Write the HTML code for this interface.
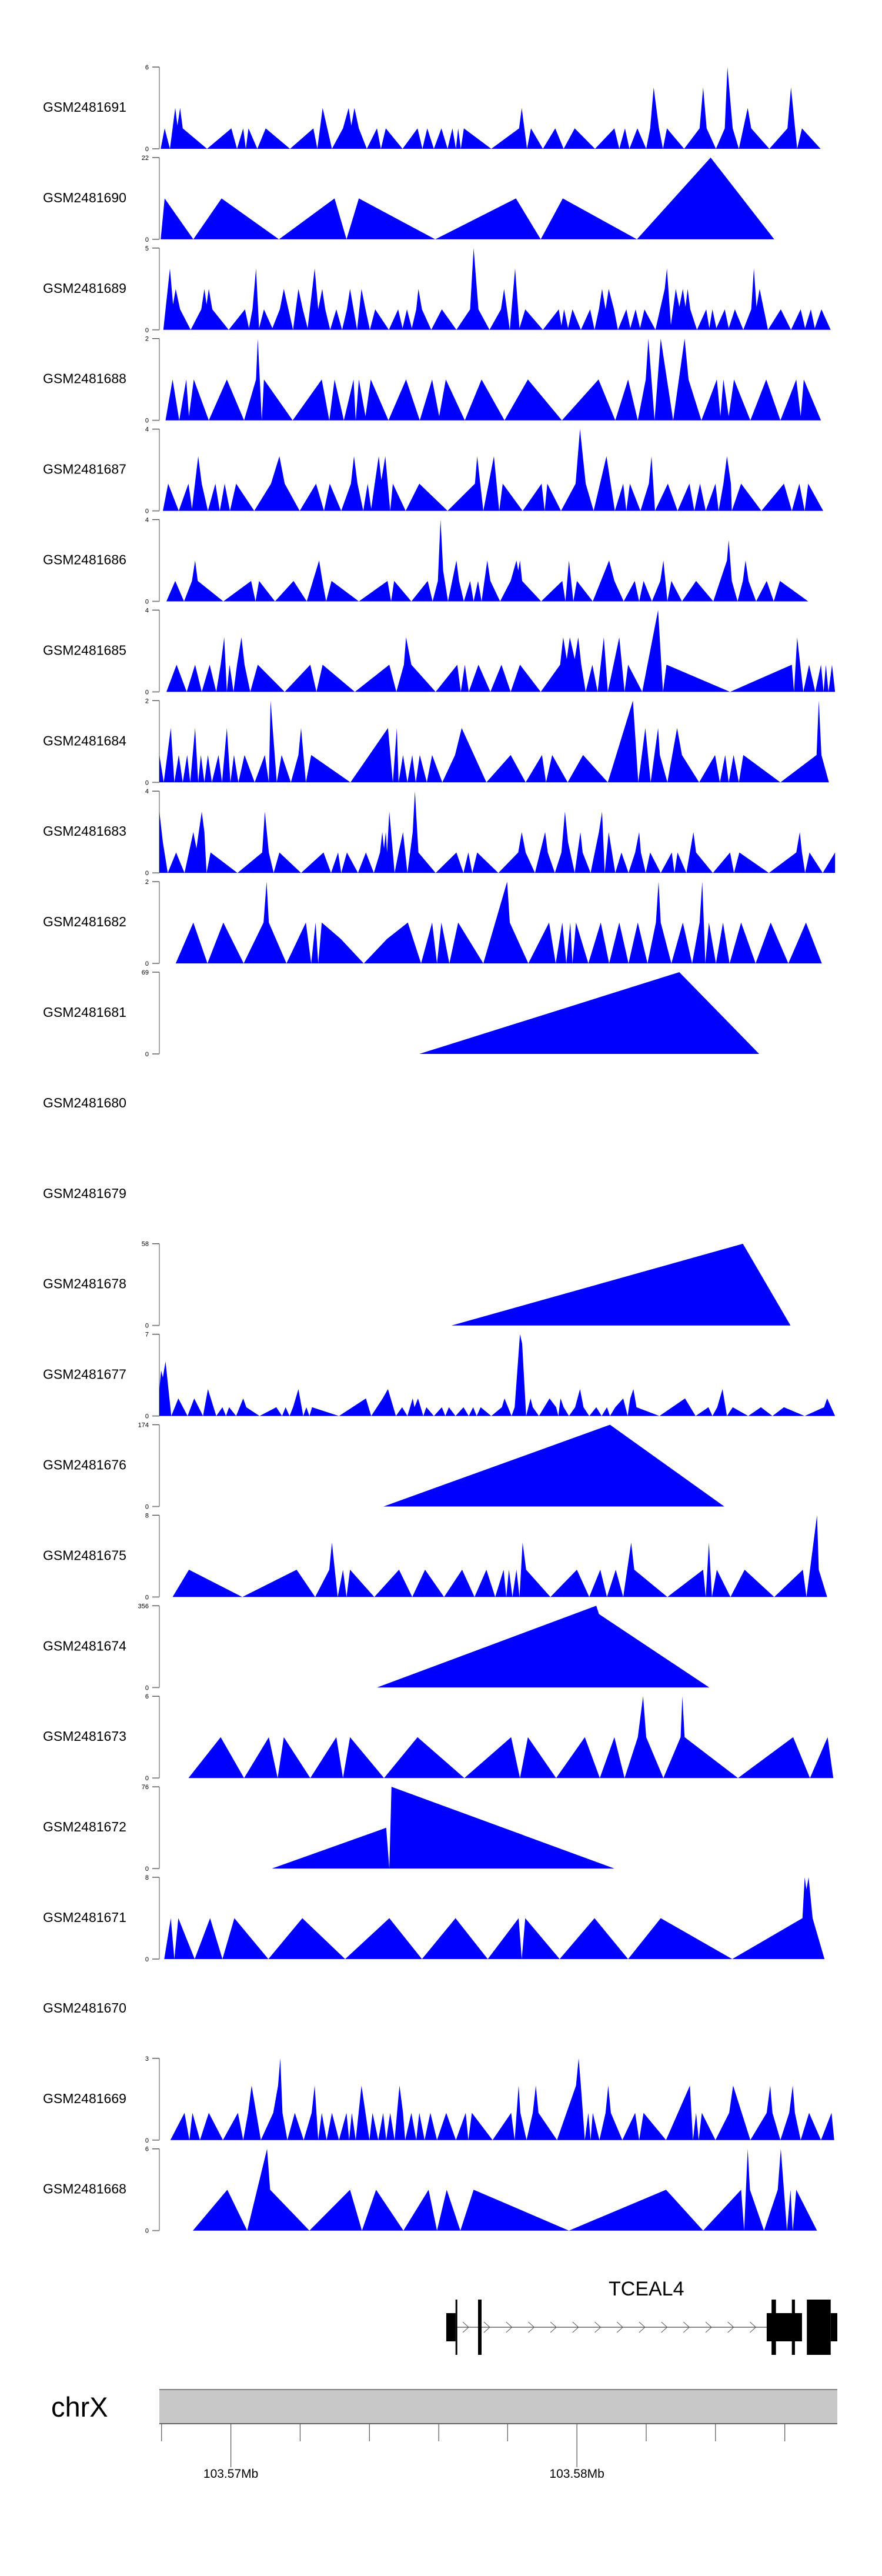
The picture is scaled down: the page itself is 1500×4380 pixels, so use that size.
<!DOCTYPE html>
<html><head><meta charset="utf-8">
<style>
html,body{margin:0;padding:0;background:#fff;}
svg{display:block;font-family:"Liberation Sans",Arial,sans-serif;}
</style></head>
<body>
<svg id="chart" width="1500" height="4380" viewBox="0 0 1500 4380" xmlns="http://www.w3.org/2000/svg"></svg>
<script>
// ---- data ----
const sampleNames = ["GSM2481691","GSM2481690","GSM2481689","GSM2481688","GSM2481687","GSM2481686","GSM2481685","GSM2481684","GSM2481683","GSM2481682","GSM2481681","GSM2481680","GSM2481679","GSM2481678","GSM2481677","GSM2481676","GSM2481675","GSM2481674","GSM2481673","GSM2481672","GSM2481671","GSM2481670","GSM2481669","GSM2481668"];
const yMaxes = [6,22,5,2,4,4,4,2,4,2,69,null,null,58,7,174,8,356,6,76,8,null,3,6];

const pts1691 = [[17,0],[26,1.5],[38,0],[50,3],[55,1.7],[61,3],[67,1.5],[122,0],[177,1.5],[190,0],[204,1.5],[210,0],[216,1.5],[236,0],[255,1.5],[310,0],[363,1.5],[372,0],[384,3],[405,0],[430,1.5],[443,3],[449,1.7],[456,3],[466,1.5],[484,0],[507,1.5],[516,0],[527,1.5],[565,0],[599,1.5],[610,0],[621,1.5],[636,0],[653,1.5],[667,0],[678,1.5],[686,0],[691,1.5],[697,0],[704,1.5],[766,0],[829,1.5],[835,3],[847,0],[856,1.5],[883,0],[911,1.5],[930,0],[955,1.5],[1001,0],[1045,1.5],[1056,0],[1069,1.5],[1079,0],[1097,1.5],[1117,0],[1126,1.5],[1134,4.5],[1146,1.5],[1155,0],[1164,1.5],[1203,0],[1238,1.5],[1246,4.5],[1254,1.5],[1275,0],[1295,1.5],[1301,6],[1313,1.5],[1327,0],[1347,3],[1355,1.5],[1396,0],[1437,1.5],[1445,4.5],[1459,0],[1470,1.5],[1512,0]];
const pts1690 = [[17,0],[26,11],[91,0],[155,11],[285,0],[411,11],[438,0],[466,11],[639,0],[822,11],[878,0],[928,11],[1096,0],[1263,22],[1407,0]];
const pts1689 = [[23,0],[38,3.75],[45,1.55],[51,2.5],[61,1.25],[85,0],[109,1.25],[116,2.5],[121,1.55],[126,2.5],[134,1.25],[171,0],[208,1.25],[217,0.1],[225,1.25],[233,3.75],[240,0.1],[251,1.25],[270,0.1],[287,1.25],[296,2.5],[317,0],[329,2.5],[339,1.25],[350,0.1],[366,3.75],[374,1.25],[383,2.5],[390,1.25],[401,0],[415,1.25],[428,0],[439,1.25],[446,2.5],[462,0],[472,2.5],[481,1.25],[491,0],[503,1.25],[534,0],[555,1.25],[565,0.1],[575,1.25],[586,0.1],[596,1.25],[601,2.5],[609,1.25],[630,0],[654,1.25],[687,0],[718,1.25],[726,5],[737,1.25],[762,0],[788,1.25],[795,2.5],[808,0],[820,3.75],[830,0.1],[843,1.25],[883,0],[919,1.25],[925,0.25],[931,1.25],[940,0.1],[950,1.25],[969,0],[990,1.25],[1000,0],[1010,1.25],[1017,2.5],[1025,1.25],[1032,2.5],[1044,1.25],[1053,0],[1072,1.25],[1081,0.1],[1093,1.25],[1103,0.1],[1113,1.25],[1138,0],[1159,2.5],[1164,3.75],[1173,0.3],[1184,2.5],[1192,1.4],[1200,2.5],[1206,1.4],[1211,2.5],[1217,1.25],[1232,0],[1253,1.25],[1260,0.1],[1267,1.25],[1276,0.1],[1295,1.25],[1304,0.1],[1318,1.25],[1337,0],[1355,1.25],[1361,3.75],[1367,1.4],[1374,2.5],[1393,0],[1422,1.25],[1445,0],[1467,1.25],[1477,0.1],[1490,1.25],[1499,0.1],[1514,1.25],[1535,0]];
const pts1688 = [[28,0],[44,1],[59,0],[75,1],[81,0.1],[92,1],[126,0],[167,1],[206,0],[233,1],[237,2],[246,0],[251,1],[316,0],[382,1],[399,0],[411,1],[432,0],[454,1],[459,0],[466,1],[481,0.1],[493,1],[533,0],[573,1],[604,0],[632,1],[648,0.1],[663,1],[706,0],[744,1],[796,0],[849,1],[926,0],[1009,1],[1047,0],[1076,1],[1098,0],[1116,1],[1122,2],[1136,0],[1150,2],[1178,0],[1204,2],[1213,1],[1242,0],[1277,1],[1285,0.1],[1292,1],[1304,0.1],[1316,1],[1353,0],[1389,1],[1421,0],[1457,1],[1467,0.1],[1474,1],[1513,0]];
const pts1687 = [[22,0],[34,1.33],[58,0],[80,1.33],[88,0.1],[102,2.67],[110,1.33],[124,0],[141,1.33],[151,0],[162,1.33],[174,0],[188,1.33],[229,0],[267,1.33],[286,2.67],[298,1.33],[332,0],[369,1.33],[387,0],[400,1.33],[426,0],[448,1.33],[455,2.67],[463,1.33],[476,0],[486,1.33],[494,0.1],[502,1.33],[511,2.67],[517,1.5],[526,2.67],[537,0],[543,1.33],[572,0],[603,1.33],[667,0],[729,1.33],[734,2.67],[748,0],[772,2.67],[784,0],[792,1.33],[837,0],[880,1.33],[887,0],[893,1.33],[924,0],[957,1.33],[967,4],[980,1.33],[998,0],[1027,2.67],[1046,0],[1065,1.33],[1072,0],[1080,1.33],[1104,0],[1123,1.33],[1129,2.67],[1137,0],[1166,1.33],[1188,0],[1215,1.33],[1226,0],[1239,1.33],[1252,0],[1274,1.33],[1281,0],[1292,1.33],[1300,2.67],[1309,1.33],[1311,0],[1332,1.33],[1378,0],[1429,1.33],[1447,0],[1464,1.33],[1476,0],[1484,1.33],[1518,0]];
const pts1686 = [[30,0],[50,1],[70,0],[88,1],[95,2],[101,1],[159,0],[222,1],[232,0],[240,1],[276,0],[318,1],[348,0],[376,2],[385,0.8],[392,0],[404,1],[466,0],[531,1],[539,0],[546,1],[585,0],[622,1],[633,0],[645,1],[651,4],[657,1.5],[668,0],[687,2],[693,1],[704,0],[718,1],[726,0],[736,1],[744,0],[757,2],[764,1],[786,0],[810,1],[823,2],[827,1.5],[831,2],[836,1],[879,0],[927,1],[934,0],[942,2],[952,0],[960,1],[996,0],[1033,2],[1045,1],[1066,0],[1091,1],[1101,0],[1111,1],[1130,0],[1149,1],[1156,2],[1165,0],[1174,1],[1198,0],[1230,1],[1269,0],[1300,2],[1304,3],[1311,1],[1324,0],[1336,1],[1342,2],[1349,1],[1366,0],[1390,1],[1406,0],[1420,1],[1484,0]];
const pts1685 = [[30,0],[53,1.33],[76,0],[95,1.33],[110,0],[128,1.33],[143,0],[153,1.33],[161,2.67],[167,0],[173,1.33],[182,0],[190,1.33],[200,2.67],[207,1.33],[220,0],[237,1.33],[298,0],[356,1.33],[370,0],[384,1.33],[457,0],[535,1.33],[551,0],[568,1.33],[573,2.67],[585,1.33],[640,0],[689,1.33],[697,0],[706,1.33],[715,0],[737,1.33],[764,0],[789,1.33],[810,0],[831,1.33],[878,0],[922,1.33],[929,2.67],[937,1.6],[944,2.67],[955,1.6],[963,2.67],[970,1.33],[980,0],[995,1.33],[1007,0],[1021,2.67],[1030,0],[1056,2.67],[1068,0],[1076,1.33],[1108,0],[1144,4],[1155,0],[1163,1.33],[1307,0],[1447,1.33],[1452,0],[1459,2.67],[1473,0],[1486,1.33],[1500,0],[1513,1.33],[1519,0],[1524,1.33],[1530,0],[1538,1.33],[1545,0]];
const pts1684 = [[14,0],[14,0.67],[24,0],[40,1.33],[48,0],[58,0.67],[67,0],[77,0.67],[84,0],[95,1.33],[102,0],[108,0.67],[116,0],[124,0.67],[133,0],[148,0.67],[156,0],[167,1.33],[175,0],[183,0.67],[193,0],[207,0.67],[230,0],[253,0.67],[262,0],[266,2],[280,0],[291,0.67],[312,0],[329,0.67],[335,1.33],[346,0],[358,0.67],[447,0],[532,1.33],[543,0],[552,1.33],[556,0],[566,0.67],[576,0],[587,0.67],[595,0],[604,0.67],[620,0],[632,0.67],[655,0],[684,0.67],[699,1.33],[755,0],[810,0.67],[844,0],[881,0.67],[890,0],[904,0.67],[939,0],[974,0.67],[1030,0],[1087,2],[1099,0],[1115,1.33],[1127,0],[1144,1.33],[1148,0.67],[1165,0],[1187,1.33],[1198,0.67],[1237,0],[1273,0.67],[1284,0],[1296,0.67],[1304,0],[1315,0.67],[1327,0],[1337,0.67],[1421,0],[1503,0.67],[1508,2],[1514,0.67],[1531,0]];
const pts1683 = [[14,0],[14,3],[22,1.5],[33,0],[52,1],[71,0],[91,2],[98,1.2],[110,3],[116,2],[121,0],[130,1],[191,0],[247,1],[253,3],[262,1],[273,0],[286,1],[335,0],[386,1],[403,0],[419,1],[426,0],[439,1],[464,0],[482,1],[500,0],[514,1],[519,2],[523,1.2],[527,2],[530,1],[535,3],[547,0],[556,1],[566,2],[576,0],[588,2],[593,4],[601,1],[640,0],[687,1],[703,0],[714,1],[723,0],[734,1],[782,0],[827,1],[835,2],[844,1],[865,0],[888,2],[894,1],[910,0],[925,1],[933,3],[940,1.5],[955,0],[968,2],[973,1],[991,0],[1010,2],[1017,3],[1023,0],[1032,2],[1047,0],[1061,1],[1077,0],[1092,1],[1101,2],[1105,1],[1116,0],[1126,1],[1150,0],[1175,1],[1181,0],[1188,1],[1208,0],[1224,2],[1230,1],[1268,0],[1307,1],[1316,0],[1328,1],[1395,0],[1457,1],[1465,2],[1470,1],[1477,0],[1487,1],[1517,0],[1545,1],[1545,0]];
const pts1682 = [[51,0],[91,1],[123,0],[159,1],[205,0],[250,1],[257,2],[262,1],[302,0],[346,1],[358,0],[368,1],[374,0],[382,1],[425,0.6],[477,0],[530,0.6],[577,1],[607,0],[632,1],[643,0],[653,1],[671,0],[691,1],[748,0],[802,2],[808,1],[850,0],[897,1],[912,0],[927,1],[936,0],[945,1],[950,0],[958,1],[986,0],[1014,1],[1033,0],[1056,1],[1077,0],[1098,1],[1120,0],[1139,1],[1145,2],[1150,1],[1174,0],[1200,1],[1221,0],[1238,1],[1244,2],[1251,0],[1259,1],[1275,0],[1291,1],[1306,0],[1332,1],[1365,0],[1399,1],[1439,0],[1479,1],[1515,0]];
const pts1681 = [[603,0],[1192,69],[1373,0]];
const pts1678 = [[676,0],[1336,58],[1444,0]];
const pts1677 = [[14,0],[14,2.3],[18,3.9],[22,3.3],[28,4.67],[41,0],[57,1.5],[78,0],[93,1.5],[113,0],[124,2.3],[143,0],[157,0.75],[165,0],[172,0.75],[188,0],[204,1.5],[211,0.75],[241,0],[279,0.75],[292,0],[300,0.75],[309,0],[317,0.75],[329,2.3],[340,0],[347,0.75],[354,0],[360,0.75],[421,0],[482,1.5],[494,0],[520,1.5],[532,2.3],[550,0],[564,0.75],[576,0],[588,1.5],[592,0.75],[600,1.5],[612,0],[619,0.75],[636,0],[654,0.75],[662,0],[670,0.75],[685,0],[703,0.75],[715,0],[725,0.75],[733,0],[742,0.75],[766,0],[790,0.75],[796,1.5],[812,0],[819,0.75],[831,7],[836,6.2],[845,0],[855,1.5],[860,0.75],[874,0],[898,1.5],[913,0.75],[918,0],[923,1.5],[930,0.75],[942,0],[956,0.75],[967,2.3],[975,0.75],[988,0],[1004,0.75],[1016,0],[1028,0.75],[1035,0],[1047,0.75],[1065,1.5],[1075,0],[1081,1.5],[1088,2.3],[1095,0.75],[1147,0],[1205,1.5],[1229,0],[1258,0.75],[1267,0],[1278,0.75],[1290,2.3],[1300,0],[1313,0.75],[1348,0],[1377,0.75],[1403,0],[1429,0.75],[1476,0],[1520,0.75],[1527,1.5],[1545,0]];
const pts1676 = [[522,0],[1035,174],[1294,0]];
const pts1675 = [[44,0],[81,2.67],[202,0],[325,2.67],[367,0],[399,2.67],[405,5.33],[418,0],[430,2.67],[438,0],[446,2.67],[501,0],[557,2.67],[587,0],[616,2.67],[659,0],[700,2.67],[728,0],[755,2.67],[775,0],[794,2.67],[800,0],[806,2.67],[814,0],[823,2.67],[830,0],[837,5.33],[845,2.67],[900,0],[960,2.67],[988,0],[1013,2.67],[1028,0],[1048,2.67],[1065,0],[1083,5.33],[1090,2.67],[1165,0],[1246,2.67],[1252,0],[1259,5.33],[1266,0],[1277,2.67],[1308,0],[1340,2.67],[1407,0],[1472,2.67],[1480,0],[1504,8],[1508,2.67],[1527,0]];
const pts1674 = [[507,0],[1004,356],[1010,320],[1260,0]];
const pts1673 = [[80,0],[153,3],[206,0],[262,3],[282,0],[296,3],[356,0],[415,3],[430,0],[446,3],[523,0],[599,3],[705,0],[811,3],[831,0],[849,3],[913,0],[978,3],[1012,0],[1045,3],[1068,0],[1098,3],[1110,6],[1117,3],[1156,0],[1195,3],[1199,6],[1204,3],[1325,0],[1450,3],[1488,0],[1528,3],[1541,0]];
const pts1672 = [[269,0],[528,37.9],[535,0],[540,76],[1045,0]];
const pts1671 = [[25,0],[40,4],[48,0],[57,4],[94,0],[129,4],[157,0],[184,4],[261,0],[338,4],[435,0],[535,4],[609,0],[685,4],[758,0],[828,4],[835,0],[843,4],[921,0],[1000,4],[1076,0],[1150,4],[1312,0],[1471,4],[1476,8],[1480,6.8],[1485,8],[1494,4],[1521,0]];
const pts1669 = [[39,0],[71,1],[82,0],[89,1],[106,0],[126,1],[158,0],[192,1],[204,0],[215,1],[223,2],[244,0],[272,1],[283,2],[288,3],[293,1],[304,0],[321,1],[341,0],[359,1],[366,2],[374,0],[382,1],[393,0],[405,1],[421,0],[438,1],[444,0],[450,1],[459,0],[472,2],[490,0],[497,1],[510,0],[521,1],[528,0],[537,1],[547,0],[558,2],[566,1],[571,0],[585,1],[596,0],[603,1],[615,0],[628,1],[643,0],[664,1],[686,0],[708,1],[714,0],[722,1],[769,0],[811,1],[819,0],[828,2],[832,1],[846,0],[860,1],[867,2],[873,1],[915,0],[958,2],[964,3],[969,2],[978,0],[986,1],[991,0],[996,1],[1011,0],[1025,1],[1031,2],[1037,1],[1063,0],[1092,1],[1101,0],[1111,1],[1162,0],[1216,2],[1223,0],[1230,1],[1236,0],[1243,1],[1274,0],[1305,1],[1314,2],[1353,0],[1390,1],[1398,2],[1403,1],[1421,0],[1441,1],[1449,2],[1454,1],[1467,0],[1486,1],[1513,0],[1537,1],[1543,0]];
const pts1668 = [[90,0],[168,3],[213,0],[258,6],[265,3],[354,0],[446,3],[473,0],[505,3],[567,0],[624,3],[643,0],[665,3],[696,0],[726,3],[942,0],[1162,3],[1246,0],[1332,3],[1339,0],[1347,6],[1352,3],[1384,0],[1415,3],[1422,6],[1436,0],[1444,3],[1449,0],[1457,3],[1504,0]];

const trackSeries = [pts1691,pts1690,pts1689,pts1688,pts1687,pts1686,pts1685,pts1684,pts1683,pts1682,pts1681,null,null,pts1678,pts1677,pts1676,pts1675,pts1674,pts1673,pts1672,pts1671,null,pts1669,pts1668];

// genomic axis (position units) and tick labels
const axisTickPos = [19,176,333,490,647,803,960,1117,1274,1431];
const axisTickLabels = [null,"103.57Mb",null,null,null,null,"103.58Mb",null,null,null];
const geneName = "TCEAL4";
const exonsMid = [[664,685],[1390,1470],[1535,1550]];
const exonsTall = [[685,689],[736,744],[1401,1411],[1447,1454],[1481,1535]];
const intron = [685,1390];

// ---- layout ----
const NS = "http://www.w3.org/2000/svg";
const svg = document.getElementById("chart");
const posMin = 14, posMax = 1550, pxMin = 271, pxMax = 1424;
function xScale(p){ return pxMin + (p - posMin) / (posMax - posMin) * (pxMax - pxMin); }
const trackTop0 = 114, trackPitch = 153.9, trackH = 139;
function mk(tag, attrs, parent){
  const e = document.createElementNS(NS, tag);
  for (const k in attrs) e.setAttribute(k, attrs[k]);
  (parent || svg).appendChild(e);
  return e;
}

sampleNames.forEach((name, i) => {
  const top = trackTop0 + trackPitch * i;
  const base = top + trackH;
  const g = mk("g", {});
  
  
  const lab = mk("text", {x: 73, y: top + 76, "font-size": 23, fill: "#000"}, g);
  lab.textContent = name;
  
  
  const ymax = yMaxes[i];
  const pts = trackSeries[i];
  if (ymax === null || !pts) return;
  const yScale = v => base - v / ymax * trackH;
  const ax = mk("g", {}, g);
  
  
  mk("line", {x1: 271, y1: top, x2: 271, y2: base, stroke: "#888", "stroke-width": 1.5}, ax);
  mk("line", {x1: 259, y1: top, x2: 271, y2: top, stroke: "#444", "stroke-width": 1.3}, ax);
  mk("line", {x1: 259, y1: base, x2: 271, y2: base, stroke: "#888", "stroke-width": 2}, ax);
  const t1 = mk("text", {x: 253, y: top + 4, "font-size": 11, "text-anchor": "end", fill: "#000"}, ax);
  t1.textContent = String(ymax);
  
  
  const t0 = mk("text", {x: 253, y: base + 4, "font-size": 11, "text-anchor": "end", fill: "#000"}, ax);
  t0.textContent = "0";
  
  
  let d = "M" + xScale(pts[0][0]).toFixed(1) + "," + base;
  pts.forEach(p => { d += " L" + xScale(p[0]).toFixed(1) + "," + yScale(p[1]).toFixed(1); });
  d += " L" + xScale(pts[pts.length - 1][0]).toFixed(1) + "," + base + " Z";
  const area = mk("path", {d: d, fill: "#0000ff", stroke: "none"}, g);
  
  
});

// ---- gene model ----
const gene = mk("g", {});


const gname = mk("text", {x: 1035, y: 3903, "font-size": 34, fill: "#000"}, gene);
gname.textContent = geneName;


const il = mk("line", {x1: xScale(intron[0]), y1: 3957, x2: xScale(intron[1]), y2: 3957, stroke: "#444", "stroke-width": 1.2}, gene);


const chevX = [797];
for (let c = 833; c <= 1295; c += 37.7) chevX.push(c);
chevX.forEach(cx => {
  const ch = mk("polyline", {points: (cx-10)+",3948 "+cx+",3957 "+(cx-10)+",3966", fill: "none", stroke: "#555", "stroke-width": 1}, gene);
  
  
});
exonsMid.forEach(e => {
  const r = mk("rect", {x: xScale(e[0]), y: 3933, width: xScale(e[1]) - xScale(e[0]), height: 48, fill: "#000"}, gene);
  
  
});
exonsTall.forEach(e => {
  const r = mk("rect", {x: xScale(e[0]), y: 3910, width: Math.max(2.5, xScale(e[1]) - xScale(e[0])), height: 94, fill: "#000"}, gene);
  
  
});

// ---- chromosome axis ----
const chr = mk("g", {});


const chrLab = mk("text", {x: 87, y: 4109, "font-size": 47, fill: "#000"}, chr);
chrLab.textContent = "chrX";


const bar = mk("rect", {x: 271, y: 4063, width: 1153, height: 58, fill: "#c8c8c8"}, chr);


mk("line", {x1: 271, y1: 4063, x2: 1424, y2: 4063, stroke: "#808080", "stroke-width": 2}, chr);
mk("line", {x1: 271, y1: 4121, x2: 1424, y2: 4121, stroke: "#666", "stroke-width": 2}, chr);
axisTickPos.forEach((p, k) => {
  const x = xScale(p);
  const major = axisTickLabels[k] !== null;
  const tk = mk("line", {x1: x, y1: 4121, x2: x, y2: major ? 4195 : 4151, stroke: "#555", "stroke-width": 1.2}, chr);
  
  
  if (major) {
    const tl = mk("text", {x: x, y: 4213, "font-size": 21, "text-anchor": "middle", fill: "#000"}, chr);
    tl.textContent = axisTickLabels[k];
    
    
  }
});
</script>
</body></html>
